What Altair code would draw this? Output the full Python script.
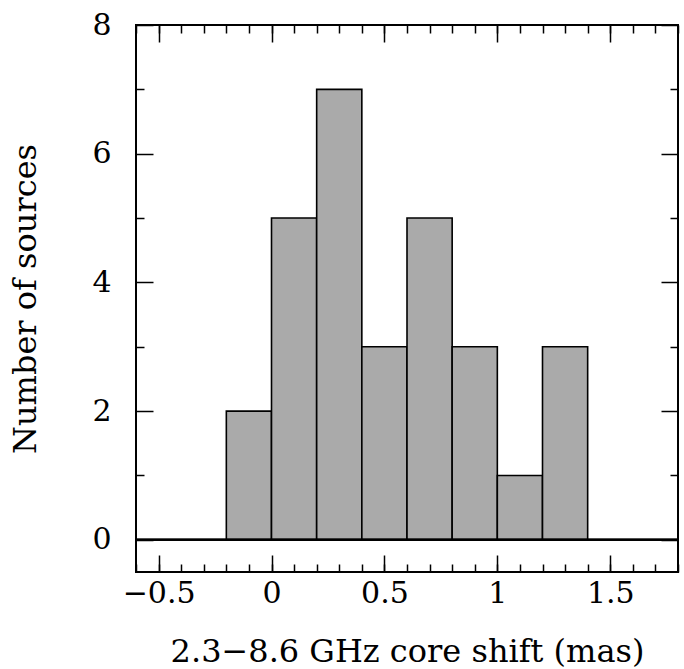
import altair as alt
import pandas as pd

# ---- data ----
bin_start = [-0.2, 0.0, 0.2, 0.4, 0.6, 0.8, 1.0, 1.2]
bin_end = [0.0, 0.2, 0.4, 0.6, 0.8, 1.0, 1.2, 1.4]
counts = [2, 5, 7, 3, 5, 3, 1, 3]

x_domain = [-0.6, 1.8]
y_domain = [-0.5, 8]
x_major = [-0.5, 0, 0.5, 1, 1.5]
x_minor = [-0.6, -0.5, -0.4, -0.3, -0.2, -0.1, 0.0, 0.1, 0.2, 0.3, 0.4, 0.5,
           0.6, 0.7, 0.8, 0.9, 1.0, 1.1, 1.2, 1.3, 1.4, 1.5, 1.6, 1.7, 1.8]
y_major = [0, 2, 4, 6, 8]
y_minor = [1, 3, 5, 7]

x_title = "2.3\u22128.6 GHz core shift (mas)"
y_title = "Number of sources"

FONT = "DejaVu Serif"
FS = 30
TFS = 32

bars = pd.DataFrame({"start": bin_start, "end": bin_end, "count": counts})
base = pd.DataFrame({"x0": [x_domain[0]], "x1": [x_domain[1]], "y": [0]})

xs = alt.Scale(domain=x_domain, nice=False, zero=False)
ys = alt.Scale(domain=y_domain, nice=False, zero=False)

MAJ = 17
MIN = 8

def tick_axis(orient, values, size):
    return alt.Axis(orient=orient, offset=-size, values=values, tickSize=size,
                    labels=False, domain=False, grid=False, title=None,
                    tickWidth=1.5, tickColor="black")

bar_layer = alt.Chart(bars).mark_bar(
    fill="#aaaaaa", stroke="black", strokeWidth=1.6
).encode(
    x=alt.X("start:Q", scale=xs,
            axis=alt.Axis(orient="bottom", values=x_major, ticks=False, domain=False,
                          grid=False, title=x_title, labelPadding=6, titlePadding=28,
                          labelExpr="replace(format(datum.value, '~g'), '-', '\u2212')")),
    x2="end:Q",
    y=alt.Y("count:Q", scale=ys,
            axis=alt.Axis(orient="left", values=y_major, ticks=False, domain=False,
                          grid=False, title=y_title, labelPadding=25, titlePadding=49)),
    y2=alt.datum(0),
)

def rule_layer(xaxis, yaxis):
    return alt.Chart(base).mark_rule(color="black", strokeWidth=2).encode(
        x=alt.X("x0:Q", scale=xs, axis=xaxis),
        x2="x1:Q",
        y=alt.Y("y:Q", scale=ys, axis=yaxis),
    )

layers = [
    bar_layer,
    rule_layer(tick_axis("bottom", x_major, MAJ), tick_axis("left", y_major, MAJ)),
    rule_layer(tick_axis("bottom", x_minor, MIN), tick_axis("left", y_minor, MIN)),
    rule_layer(tick_axis("top", x_major, MAJ), tick_axis("right", y_major, MAJ)),
    rule_layer(tick_axis("top", x_minor, MIN), tick_axis("right", y_minor, MIN)),
]

chart = alt.layer(*layers).resolve_axis(
    x="independent", y="independent"
).properties(
    width=542, height=547,
    autosize=alt.AutoSizeParams(type="none"),
    padding={"left": 136, "top": 25, "right": 6, "bottom": 97},
).configure_view(
    stroke="black", strokeWidth=2
).configure_axis(
    labelFont=FONT, labelFontSize=FS, labelColor="black",
    titleFont=FONT, titleFontSize=TFS, titleColor="black", titleFontWeight="normal",
)

chart.save("out.html", embed_options={"renderer": "svg", "actions": False})
